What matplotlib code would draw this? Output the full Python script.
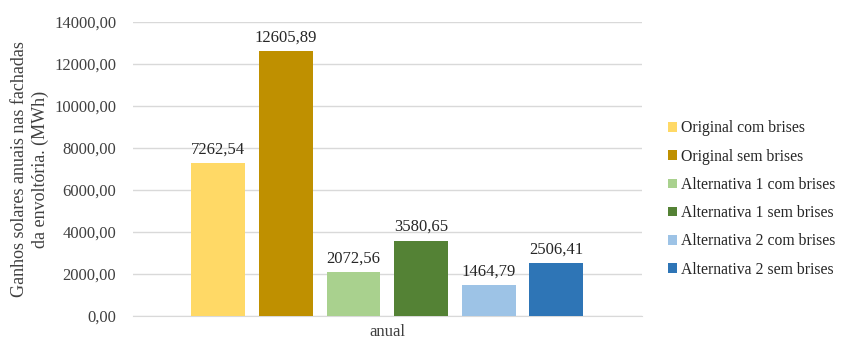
import matplotlib.pyplot as plt
import numpy as np

categories = ['anual']
series = ['Original com brises', 'Original sem brises',
          'Alternativa 1 com brises', 'Alternativa 1 sem brises',
          'Alternativa 2 com brises', 'Alternativa 2 sem brises']
values = [7262.54, 12605.89, 2072.56, 3580.65, 1464.79, 2506.41]
colors = ['#FFD966', '#BF9000', '#A9D18E', '#548235', '#9DC3E6', '#2E75B6']

plt.rcParams['font.family'] = ['Liberation Serif', 'DejaVu Serif']

fig = plt.figure(figsize=(8.42, 3.42), dpi=100)
ax = fig.add_axes([0.158, 0.076, 0.604, 0.860])

step = 0.133
width = 0.106
x0 = np.arange(len(categories))
for i, (name, v, c) in enumerate(zip(series, values, colors)):
    xs = x0 + (i - 2.5) * step
    bars = ax.bar(xs, [v], width=width, color=c, label=name, zorder=3)
    for b in bars:
        ax.text(b.get_x() + b.get_width() / 2, b.get_height() + 280,
                f'{b.get_height():.2f}'.replace('.', ','),
                ha='center', va='bottom', fontsize=12, color='#262626')

ax.set_xlim(-0.5, 0.5)
ax.set_ylim(0, 14000)
ax.set_yticks(np.arange(0, 14001, 2000))
ax.set_yticklabels([f'{t:.2f}'.replace('.', ',') for t in np.arange(0, 14001, 2000)])
ax.set_xticks(x0)
ax.set_xticklabels(categories)
ax.tick_params(length=0, labelsize=12, colors='#404040')
ax.tick_params(axis='y', pad=12)
ax.tick_params(axis='x', pad=5.5)
ax.grid(axis='y', color='#d9d9d9', lw=1, zorder=0)
for s in ['top', 'right', 'left']:
    ax.spines[s].set_visible(False)
ax.spines['bottom'].set_color('#d9d9d9')

ax.set_ylabel('Ganhos solares anuais nas fachadas\nda envoltória. (MWh)',
              fontsize=13, color='#404040', linespacing=1.25, labelpad=4)

fig.legend(loc='center left', bbox_to_anchor=(0.786, 0.418), frameon=False,
           fontsize=11.3, handlelength=0.55, handleheight=0.55, handletextpad=0.3,
           labelspacing=0.78, borderaxespad=0, labelcolor='#262626')

fig.savefig('out.png', dpi=100)
